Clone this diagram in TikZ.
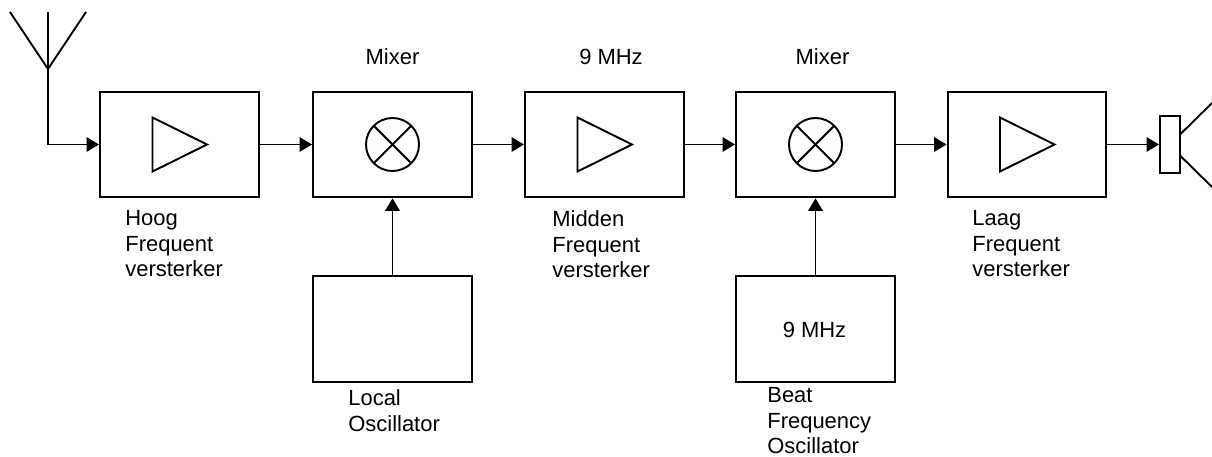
\documentclass[tikz,border=0pt]{standalone}
\usepackage{fontspec}
\setmainfont{Liberation Sans}
\usetikzlibrary{arrows.meta}
\tikzset{
  block/.style={draw,line width=1.1pt,minimum width=159\pxu,minimum height=105.5\pxu,inner sep=0pt},
  sig/.style={line width=1.1pt,-{Triangle[length=12.5\pxu,width=14.5\pxu]},shorten >=0.2pt},
  wire/.style={line width=1.1pt},
  lbl/.style={align=left,inner sep=0pt,font=\fontsize{12.5}{14.4}\selectfont},
  capt/.style={lbl,anchor=north west}
}
\newcommand{\pxu}{*0.5669pt}
\begin{document}
\begin{tikzpicture}[x=0.02cm,y=-0.02cm]
\useasboundingbox (0,0) rectangle (1212,456);

\node[block] (hf) at (179.5,144.5) {};
\node[block] (mixa) at (392.5,144.5) {};
\node[block] (mf) at (604.5,144.5) {};
\node[block] (mixb) at (815.5,144.5) {};
\node[block] (lf) at (1027,144.5) {};
\node[block] (lo) at (392.5,329) {};
\node[block] (bfo) at (815.5,329) {};
\node[draw,line width=1.1pt,minimum width=19.5\pxu,minimum height=57\pxu,inner sep=0pt] (spk) at (1170,144.5) {};

\coordinate (antbase) at (48,144.5);
\coordinate (antfork) at (48,69);
\draw[wire] (48,12) -- (antfork);
\draw[wire] (10,12) -- (antfork) -- (86,12);
\draw[wire] (antfork) -- (antbase);
\draw[sig] (antbase) -- (hf);
\draw[sig] (hf) -- (mixa);
\draw[sig] (mixa) -- (mf);
\draw[sig] (mf) -- (mixb);
\draw[sig] (mixb) -- (lf);
\draw[sig] (lf) -- (spk);
\draw[sig] (lo) -- (mixa);
\draw[sig] (bfo) -- (mixb);

\draw[wire] (1179.5,135) -- (1212,103);
\draw[wire] (1179.5,155) -- (1212,187);

% amplifiers
\draw[wire] (152.5,117.5) -- (207,144.5) -- (152.5,171.5) -- cycle;
\draw[wire] (577.5,117.5) -- (632,144.5) -- (577.5,171.5) -- cycle;
\draw[wire] (1000,117.5) -- (1054.5,144.5) -- (1000,171.5) -- cycle;

% mixers
\draw[wire] (392.5,144.5) circle (26.5);
\draw[wire] (373.8,125.8) -- (411.2,163.2);
\draw[wire] (373.8,163.2) -- (411.2,125.8);
\draw[wire] (815.5,144.5) circle (26.5);
\draw[wire] (796.8,125.8) -- (834.2,163.2);
\draw[wire] (796.8,163.2) -- (834.2,125.8);

\node[lbl] (mixalbl) at (392.5,57) {Mixer};
\node[lbl] (mflbl) at (611,57) {9 MHz};
\node[lbl] (mixblbl) at (822.5,57) {Mixer};
\node[lbl] (bfolbl) at (814.5,329.5) {9 MHz};

\node[capt] (hflbl) at (125,210.5) {Hoog\\Frequent\\versterker};
\node[capt] (mflbl2) at (552,210.5) {Midden\\Frequent\\versterker};
\node[capt] (lflbl) at (972,210.5) {Laag\\Frequent\\versterker};
\node[capt] (lolbl) at (348,389.5) {Local\\Oscillator};
\node[capt] (bfolbl2) at (767,387.5) {Beat\\Frequency\\Oscillator};
\end{tikzpicture}
\end{document}
